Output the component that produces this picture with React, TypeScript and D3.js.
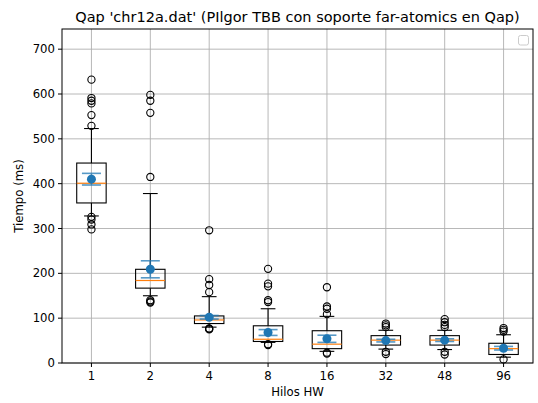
import React from 'react';
import * as d3 from 'd3';

const categories = ['1', '2', '4', '8', '16', '32', '48', '96'];
const q1 = [357, 167, 88, 48, 32, 40, 40, 19];
const medians = [401, 184, 96, 53, 42, 51, 51, 32];
const q3 = [446, 209, 105, 83, 72, 61, 61, 44];
const whiskerLow = [328, 150, 80, 46, 26, 31, 30, 13];
const whiskerHigh = [523, 378, 148, 121, 104, 73, 73, 63];
const outliers = [
  [632, 591, 585, 579, 553, 529, 326, 320, 309, 298],
  [598, 585, 558, 415, 140, 137, 135],
  [296, 187, 174, 158, 77, 76, 75],
  [210, 177, 171, 140, 136, 42, 40],
  [169, 126, 121, 109, 23, 21],
  [88, 84, 80, 25, 20],
  [98, 91, 85, 80, 25, 19],
  [78, 74, 70, 8],
];
const means = [410, 209, 102, 68, 54, 50, 51, 33];
const meanErr = [13, 19, 4, 6.5, 8, 3, 3, 4];
const yTicks = [0, 100, 200, 300, 400, 500, 600, 700];

const W = 538;
const H = 403;
const L = 62;
const R = 533;
const T = 29;
const B = 363;
const FONT = 'DejaVu Sans, sans-serif';

export default function App() {
  const x = d3.scaleLinear().domain([0.5, 8.5]).range([L, R]);
  const y = d3.scaleLinear().domain([0, 745]).range([B, T]);
  const boxHalf = x(1.25) - x(1);
  const capHalf = boxHalf / 2;
  const errCap = 9.5;
  const blue = '#1f77b4';

  return (
    <svg width={W} height={H} style={{ position: 'absolute', left: 0, top: 0, background: '#fff' }}>
      <rect x={0} y={0} width={W} height={H} fill="#fff" />
      {/* grid */}
      <g stroke="#b0b0b0" strokeWidth={0.9}>
        {categories.map((c, i) => (
          <line key={'gx' + c} x1={x(i + 1)} x2={x(i + 1)} y1={T} y2={B} />
        ))}
        {yTicks.map((t) => (
          <line key={'gy' + t} x1={L} x2={R} y1={y(t)} y2={y(t)} />
        ))}
      </g>
      {/* boxes */}
      {categories.map((c, i) => {
        const cx = x(i + 1);
        return (
          <g key={'b' + c}>
            <line x1={cx} x2={cx} y1={y(q1[i])} y2={y(whiskerLow[i])} stroke="#000" strokeWidth={1.1} />
            <line x1={cx} x2={cx} y1={y(q3[i])} y2={y(whiskerHigh[i])} stroke="#000" strokeWidth={1.1} />
            <line x1={cx - capHalf} x2={cx + capHalf} y1={y(whiskerLow[i])} y2={y(whiskerLow[i])} stroke="#000" strokeWidth={1.1} />
            <line x1={cx - capHalf} x2={cx + capHalf} y1={y(whiskerHigh[i])} y2={y(whiskerHigh[i])} stroke="#000" strokeWidth={1.1} />
            <rect
              x={cx - boxHalf}
              y={y(q3[i])}
              width={2 * boxHalf}
              height={y(q1[i]) - y(q3[i])}
              fill="none"
              stroke="#000"
              strokeWidth={1.1}
            />
            <line x1={cx - boxHalf} x2={cx + boxHalf} y1={y(medians[i])} y2={y(medians[i])} stroke="#ff7f0e" strokeWidth={1.2} />
            {outliers[i].map((v, k) => (
              <circle key={k} cx={cx} cy={y(v)} r={3.6} fill="none" stroke="#000" strokeWidth={1.1} />
            ))}
            <g stroke={blue} strokeWidth={1.6} opacity={0.75}>
              <line x1={cx} x2={cx} y1={y(means[i] - meanErr[i])} y2={y(means[i] + meanErr[i])} />
              <line x1={cx - errCap} x2={cx + errCap} y1={y(means[i] - meanErr[i])} y2={y(means[i] - meanErr[i])} />
              <line x1={cx - errCap} x2={cx + errCap} y1={y(means[i] + meanErr[i])} y2={y(means[i] + meanErr[i])} />
            </g>
            <circle cx={cx} cy={y(means[i])} r={4.5} fill={blue} />
          </g>
        );
      })}
      {/* frame */}
      <rect x={L} y={T} width={R - L} height={B - T} fill="none" stroke="#000" strokeWidth={1} />
      {/* y axis ticks */}
      {yTicks.map((t) => (
        <g key={'yt' + t}>
          <line x1={L - 4} x2={L} y1={y(t)} y2={y(t)} stroke="#000" strokeWidth={1} />
          <text x={L - 7} y={y(t)} dy="0.35em" textAnchor="end" fontSize={11.7} fontFamily={FONT} fill="#000">
            {t}
          </text>
        </g>
      ))}
      {/* x axis ticks */}
      {categories.map((c, i) => (
        <g key={'xt' + c}>
          <line x1={x(i + 1)} x2={x(i + 1)} y1={B} y2={B + 4} stroke="#000" strokeWidth={1} />
          <text x={x(i + 1)} y={B + 17} textAnchor="middle" fontSize={11.7} fontFamily={FONT} fill="#000">
            {c}
          </text>
        </g>
      ))}
      <text x={(L + R) / 2} y={396} textAnchor="middle" fontSize={11.7} fontFamily={FONT} fill="#000">
        Hilos HW
      </text>
      <text
        transform={`translate(23,${(T + B) / 2}) rotate(-90)`}
        textAnchor="middle"
        fontSize={11.7}
        fontFamily={FONT}
        fill="#000"
      >
        Tiempo (ms)
      </text>
      <text x={(L + R) / 2} y={22} textAnchor="middle" fontSize={14.5} fontFamily={FONT} fill="#000">
        Qap 'chr12a.dat' (PIlgor TBB con soporte far-atomics en Qap)
      </text>
      {/* empty legend */}
      <rect x={518.5} y={35.5} width={10} height={9.5} rx={2} fill="#fff" fillOpacity={0.8} stroke="#cccccc" strokeWidth={1} />
    </svg>
  );
}
